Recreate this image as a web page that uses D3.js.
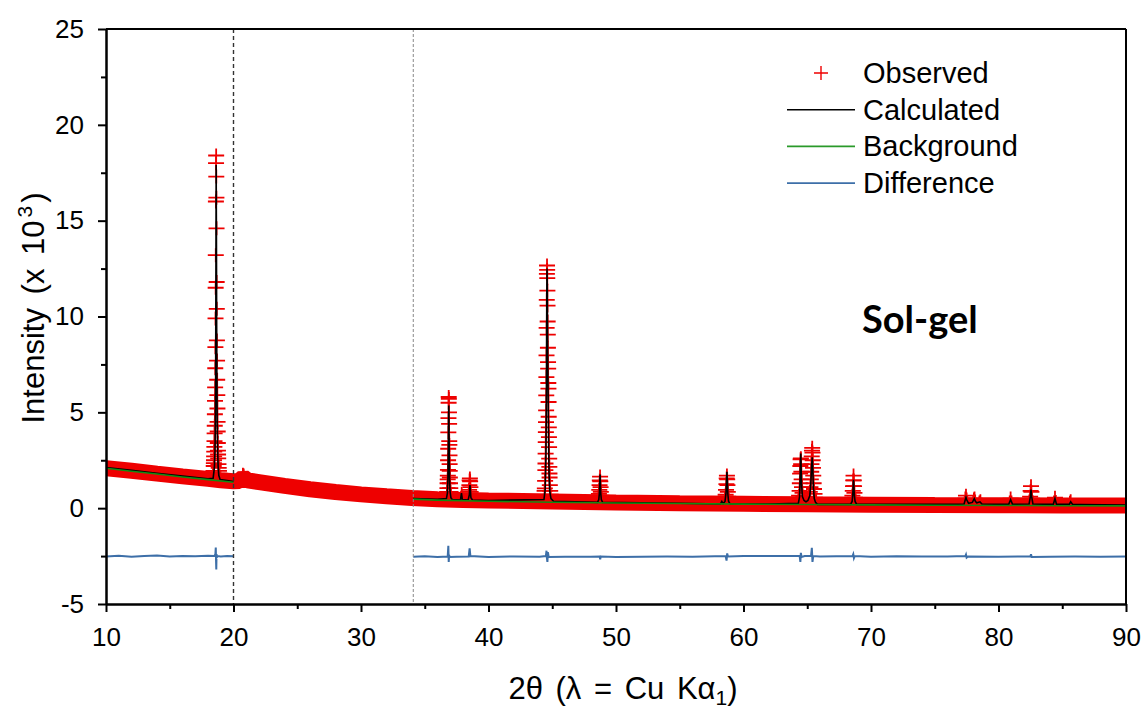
<!DOCTYPE html>
<html>
<head>
<meta charset="utf-8">
<script src="https://cdn.jsdelivr.net/npm/d3@7"></script>
<style>
  body { margin: 0; background: #fff; }
  svg { display: block; }
  .axis text { font-family: "Liberation Sans", Arial, sans-serif; font-size: 26px; fill: #000; }
  .axis path, .axis line { stroke: #000; stroke-width: 2; }
</style>
</head>
<body>
<div id="chart"></div>
<script>
// values (intensity in x 10^3 counts)
var xMajor = [10, 20, 30, 40, 50, 60, 70, 80, 90];
var xMinor = [15, 25, 35, 45, 55, 65, 75, 85];
var yMajor = [-5, 0, 5, 10, 15, 20, 25];
var yMinor = [-2.5, 2.5, 7.5, 12.5, 17.5, 22.5];
var excludedEdges = [20, 34.1];
var legendNames = ["Observed", "Calculated", "Background", "Difference"];

// observed counts along the baseline (the dense band of markers)
var obsBase = [[10,2.08],[12,1.95],[14,1.8],[16,1.66],[18,1.53],[19,1.46],[20,1.4],[20.45,1.42],
  [20.77,1.62],[21.1,1.45],[22,1.36],[24,1.16],[26,0.99],[28,0.84],
  [30,0.72],[32,0.62],[34,0.53],[36,0.47],[38,0.43],[40,0.4],[45,0.35],[50,0.3],[55,0.26],
  [60,0.23],[65,0.2],[70,0.18],[75,0.16],[80,0.15],[85,0.14],[90,0.14]];

// observed counts on the reflections
var obsPeaks = [
  [18.40,1.7],[18.43,1.95],[18.45,2.2],[18.46,2.35],[18.47,2.5],[18.48,2.7],[18.49,2.95],[18.50,3.2],
  [18.51,3.5],[18.52,3.9],[18.53,4.3],[18.54,4.9],[18.55,5.6],[18.56,6.3],[18.57,7.3],[18.58,8.4],
  [18.59,9.9],[18.60,11.5],[18.61,13.2],[18.62,16.0],[18.63,18.0],[18.64,18.4],[18.65,17.3],
  [18.66,16.2],[18.67,14.6],[18.68,11.8],[18.69,10.4],[18.70,8.75],[18.71,7.7],[18.72,6.7],
  [18.73,5.9],[18.74,5.2],[18.75,4.5],[18.76,4.0],[18.77,3.4],[18.78,3.0],[18.79,2.8],[18.80,2.6],
  [18.82,2.3],[18.84,2.1],[18.86,1.95],[18.90,1.8],
  [20.74,1.75],[20.80,1.7],
  [36.74,0.75],[36.76,0.85],[36.78,1.05],[36.79,1.3],[36.80,1.5],[36.81,1.7],[36.82,2.0],[36.83,2.5],
  [36.84,3.1],[36.85,3.95],[36.86,4.7],[36.87,5.5],[36.88,5.8],[36.89,5.7],[36.90,5.0],[36.91,4.4],
  [36.92,3.5],[36.93,3.3],[36.94,2.75],[36.95,2.3],[36.96,1.95],[36.97,1.6],[36.98,1.3],[37.00,1.05],
  [37.02,0.85],[37.05,0.7],
  [37.85,0.55],[37.90,0.75],[37.95,0.55],
  [38.45,0.7],[38.48,0.95],[38.50,1.2],[38.52,1.45],[38.54,1.55],[38.56,1.4],[38.58,1.1],[38.60,0.85],[38.63,0.65],
  [44.40,0.9],[44.42,1.03],[44.44,1.42],[44.46,1.98],[44.47,2.33],[44.48,2.85],[44.49,3.45],[44.50,3.97],
  [44.51,4.49],[44.52,5.10],[44.53,5.89],[44.54,6.84],[44.55,7.97],[44.56,9.41],[44.57,10.87],
  [44.58,12.22],[44.59,12.66],[44.60,12.43],[44.61,12.0],[44.62,11.35],[44.63,10.57],[44.64,9.74],
  [44.65,9.05],[44.66,8.37],[44.67,7.62],[44.68,7.28],[44.69,6.53],[44.70,6.24],[44.71,5.54],
  [44.72,4.77],[44.73,4.22],[44.74,3.71],[44.75,3.19],[44.76,2.59],[44.77,2.15],[44.78,1.81],
  [44.79,1.60],[44.81,1.20],[44.84,0.9],[44.88,0.7],
  [48.62,0.6],[48.66,0.75],[48.69,0.95],[48.71,1.2],[48.73,1.45],[48.75,1.65],[48.77,1.4],[48.79,1.1],
  [48.81,0.85],[48.84,0.65],[48.88,0.5],
  [58.55,0.5],[58.60,0.7],[58.63,0.95],[58.66,1.25],[58.68,1.55],[58.70,1.7],[58.72,1.5],[58.74,1.2],
  [58.77,0.85],[58.80,0.6],[58.85,0.45],
  [64.30,0.4],[64.36,0.65],[64.40,0.9],[64.42,1.3],[64.44,1.8],[64.46,2.2],[64.48,2.55],[64.50,2.6],
  [64.52,2.3],[64.54,1.9],[64.56,1.5],[64.59,1.1],[64.63,0.8],[64.70,0.6],[64.80,0.45],[64.90,0.42],
  [65.00,0.5],[65.10,0.6],[65.20,0.85],[65.25,1.1],[65.28,1.5],[65.31,1.9],[65.33,2.3],[65.35,2.7],
  [65.37,3.0],[65.39,3.15],[65.41,2.9],[65.43,2.5],[65.45,2.1],[65.47,1.7],[65.50,1.3],[65.53,1.0],
  [65.57,0.75],[65.62,0.55],[65.70,0.4],
  [68.50,0.45],[68.54,0.65],[68.57,0.9],[68.59,1.15],[68.61,1.45],[68.63,1.7],[68.65,1.45],[68.67,1.15],
  [68.70,0.8],[68.74,0.55],[68.80,0.4],
  [77.35,0.3],[77.40,0.5],[77.45,0.65],[77.50,0.45],[77.55,0.3],
  [78.02,0.3],[78.07,0.45],[78.12,0.5],[78.17,0.35],[78.50,0.3],[78.58,0.36],
  [80.88,0.3],[80.95,0.5],[81.02,0.3],
  [82.42,0.35],[82.48,0.6],[82.52,0.9],[82.55,1.15],[82.58,0.85],[82.63,0.5],[82.70,0.3],
  [84.35,0.3],[84.43,0.55],[84.50,0.32],[85.60,0.28],[85.66,0.36]
];

// calculated profile (null = excluded region 20 - 34.1)
var calcPts = [[10,2.12],[12,1.97],[14,1.82],[16,1.67],[18,1.53],[18.40,1.56],[18.50,2.1],[18.55,3.0],
  [18.58,4.6],[18.60,7.0],[18.62,12.0],[18.64,17.9],[18.66,14.5],[18.68,9.5],[18.70,6.5],[18.72,4.6],
  [18.75,3.1],[18.80,2.1],[18.85,1.7],[18.95,1.5],[19.5,1.44],[20,1.39],
  null,
  [34.1,0.5],[36,0.46],[36.70,0.5],[36.78,0.8],[36.82,1.6],[36.85,3.2],[36.87,4.8],[36.88,5.35],
  [36.89,5.0],[36.91,3.6],[36.93,2.4],[36.95,1.5],[36.98,0.9],[37.05,0.55],[37.15,0.45],[37.8,0.42],
  [37.88,0.78],[37.95,0.45],[38.4,0.42],[38.50,0.7],[38.53,1.05],[38.55,1.2],[38.57,1.0],[38.62,0.55],
  [38.75,0.42],[40,0.4],[44.35,0.45],[44.45,1.0],[44.50,2.6],[44.53,4.8],[44.55,7.5],[44.57,11.0],
  [44.59,12.5],[44.61,11.5],[44.63,9.0],[44.65,7.5],[44.67,6.3],[44.69,4.8],[44.72,3.0],[44.75,1.8],
  [44.80,0.9],[44.90,0.5],[45.1,0.36],[48.55,0.3],[48.65,0.45],[48.70,0.8],[48.73,1.4],[48.75,1.75],
  [48.77,1.4],[48.80,0.8],[48.85,0.45],[48.95,0.3],[55,0.26],[58.2,0.22],[58.3,0.35],[58.4,0.24],
  [58.55,0.35],[58.63,0.8],[58.67,1.5],[58.70,1.9],[58.73,1.5],[58.77,0.75],[58.83,0.35],[58.95,0.22],
  [62,0.22],[64.30,0.25],[64.40,0.6],[64.44,1.5],[64.47,2.5],[64.49,2.85],[64.51,2.4],[64.55,1.3],
  [64.62,0.6],[64.75,0.4],[64.90,0.33],[65.05,0.4],[65.20,0.65],[65.28,1.3],[65.34,2.2],[65.39,2.65],
  [65.43,2.1],[65.48,1.1],[65.55,0.5],[65.65,0.3],[65.80,0.2],[68.40,0.2],[68.52,0.35],[68.57,0.7],
  [68.61,1.25],[68.63,1.48],[68.65,1.25],[68.69,0.7],[68.75,0.35],[68.88,0.2],[76.3,0.2],[77.3,0.22],
  [77.4,0.45],[77.45,0.56],[77.5,0.45],[77.65,0.25],[77.95,0.3],[78.1,0.5],[78.2,0.35],[78.3,0.28],
  [78.55,0.33],[78.7,0.22],[80.8,0.2],[80.95,0.45],[81.1,0.2],[82.4,0.22],[82.5,0.6],[82.55,0.97],
  [82.6,0.6],[82.7,0.22],[84.3,0.2],[84.43,0.5],[84.55,0.2],[85.55,0.2],[85.66,0.33],[85.8,0.2],
  [86.4,0.19],[90,0.16]];

var bgPts = [[10,2.08],[12,1.93],[14,1.78],[16,1.63],[18,1.49],[20,1.35],
  null,
  [34.1,0.47],[36,0.42],[40,0.36],[45,0.31],[50,0.27],[55,0.24],[60,0.21],[65,0.19],[70,0.17],
  [75,0.15],[80,0.14],[85,0.13],[90,0.12]];

// difference curve, offset to -2.5
var diffPts = [[10,-2.52],[11,-2.48],[12,-2.53],[13,-2.5],[14,-2.47],[15,-2.52],[16,-2.49],[17,-2.51],
  [18,-2.48],[18.50,-2.5],[18.58,-2.4],[18.61,-2.05],[18.63,-2.7],[18.65,-3.2],[18.67,-2.4],
  [18.70,-2.55],[18.75,-2.5],[19,-2.52],[19.5,-2.49],[20,-2.51],
  null,
  [34.1,-2.53],[35,-2.51],[36,-2.55],[36.8,-2.52],[36.85,-1.96],[36.88,-2.81],[36.91,-2.45],
  [36.95,-2.55],[37.5,-2.53],[38.45,-2.52],[38.52,-2.1],[38.58,-2.5],[40,-2.55],[42,-2.52],[44,-2.54],
  [44.5,-2.5],[44.55,-2.22],[44.58,-2.6],[44.62,-2.8],[44.66,-2.3],[44.72,-2.55],[46,-2.53],[48,-2.54],
  [48.72,-2.52],[48.76,-2.67],[48.8,-2.52],[50,-2.55],[52,-2.53],[54,-2.52],[56,-2.53],[58.6,-2.5],
  [58.67,-2.74],[58.72,-2.36],[58.78,-2.52],[60,-2.5],[62,-2.5],[64.4,-2.48],[64.46,-2.8],[64.5,-2.33],
  [64.55,-2.55],[64.8,-2.5],[65.3,-2.48],[65.36,-2.07],[65.41,-2.8],[65.47,-2.5],[66,-2.52],[68.55,-2.5],
  [68.61,-2.4],[68.66,-2.6],[68.72,-2.5],[70,-2.53],[72,-2.51],[74,-2.52],[76,-2.52],[77.4,-2.5],
  [77.45,-2.42],[77.5,-2.58],[77.6,-2.52],[80,-2.53],[82.5,-2.52],[82.55,-2.4],[82.6,-2.55],[84,-2.53],
  [86,-2.52],[88,-2.53],[90,-2.52]];

var colors = {obs: "#ee0000", calc: "#000000", bg: "#138a13", diff: "#3d6fa8"};

// SVG drawing area
var margin = {top: 29, right: 18, bottom: 107, left: 106};
var width = 1144 - margin.left - margin.right;
var height = 711 - margin.top - margin.bottom;

var svg = d3.select("#chart").append("svg")
    .attr("width", 1144)
    .attr("height", 711);

var g = svg.append("g")
    .attr("transform", "translate(" + margin.left + "," + margin.top + ")");

g.append("clipPath")
    .attr("id", "plotClip")
    .append("rect")
    .attr("width", width)
    .attr("height", height);

//Scales
var xScale = d3.scaleLinear().domain([10, 90]).range([0, width]);
var yScale = d3.scaleLinear().domain([-5, 25]).range([height, 0]);

var line = d3.line()
    .defined(function(d) { return d !== null; })
    .x(function(d) { return xScale(d[0]); })
    .y(function(d) { return yScale(d[1]); });

var plot = g.append("g").attr("clip-path", "url(#plotClip)");

// observed: overlapping markers along the baseline read as a solid band
plot.append("path")
    .attr("d", line(obsBase))
    .attr("fill", "none")
    .attr("stroke", colors.obs)
    .attr("stroke-width", 16)
    .attr("stroke-linejoin", "bevel");

var plus = "M-8,0H8M0,-7V7";
plot.append("g").selectAll("path")
    .data(obsPeaks.concat(obsBase))
    .enter()
    .append("path")
    .attr("d", plus)
    .attr("transform", function(d) { return "translate(" + xScale(d[0]) + "," + yScale(d[1]) + ")"; })
    .attr("stroke", colors.obs)
    .attr("stroke-width", 1.8)
    .attr("fill", "none");

plot.append("path")
    .attr("d", line(calcPts))
    .attr("fill", "none")
    .attr("stroke", colors.calc)
    .attr("stroke-width", 1.6);

plot.append("path")
    .attr("d", line(bgPts))
    .attr("fill", "none")
    .attr("stroke", colors.bg)
    .attr("stroke-width", 1.6);

plot.append("path")
    .attr("d", line(diffPts))
    .attr("fill", "none")
    .attr("stroke", colors.diff)
    .attr("stroke-width", 2);

// excluded region boundaries
plot.selectAll(".excl")
    .data(excludedEdges)
    .enter()
    .append("line")
    .attr("class", "excl")
    .attr("x1", function(d) { return xScale(d); })
    .attr("x2", function(d) { return xScale(d); })
    .attr("y1", yScale(25))
    .attr("y2", yScale(-5))
    .attr("stroke", function(d, i) { return i === 0 ? "#333" : "#888"; })
    .attr("stroke-width", function(d, i) { return i === 0 ? 1.4 : 1; })
    .attr("stroke-dasharray", function(d, i) { return i === 0 ? "4,3" : "3,2"; });

//Axes
var plain = function(d) { return String(d); };
g.append("g")
    .attr("class", "axis")
    .attr("transform", "translate(0," + height + ")")
    .call(d3.axisBottom(xScale).tickValues(xMajor).tickSize(8).tickSizeOuter(0).tickPadding(16).tickFormat(plain));
g.append("g")
    .attr("class", "axis minor")
    .attr("transform", "translate(0," + height + ")")
    .call(d3.axisBottom(xScale).tickValues(xMinor).tickSize(5).tickSizeOuter(0).tickFormat(""));
g.append("g")
    .attr("class", "axis")
    .call(d3.axisLeft(yScale).tickValues(yMajor).tickSize(8).tickSizeOuter(0).tickPadding(14).tickFormat(plain));
g.append("g")
    .attr("class", "axis minor")
    .call(d3.axisLeft(yScale).tickValues(yMinor).tickSize(5).tickSizeOuter(0).tickFormat(""));

// frame: top and right edges
g.append("line")
    .attr("x1", xScale(10)).attr("x2", xScale(90))
    .attr("y1", yScale(25)).attr("y2", yScale(25))
    .attr("stroke", "#000").attr("stroke-width", 2);
g.append("line")
    .attr("x1", xScale(90)).attr("x2", xScale(90))
    .attr("y1", yScale(25)).attr("y2", yScale(-5))
    .attr("stroke", "#000").attr("stroke-width", 2);

// Axis titles
var yTitle = svg.append("text")
    .attr("transform", "translate(44,308)rotate(-90)")
    .attr("text-anchor", "middle")
    .style("font-family", "'Liberation Sans', Arial, sans-serif")
    .style("font-size", "31px")
    .style("word-spacing", "5px");
yTitle.append("tspan").text("Intensity (x 10");
yTitle.append("tspan").attr("dy", -12).attr("dx", 3).style("font-size", "21px").text("3");
yTitle.append("tspan").attr("dy", 12).attr("dx", 3).text(")");

var xTitle = svg.append("text")
    .attr("x", 623)
    .attr("y", 699)
    .attr("text-anchor", "middle")
    .style("font-family", "'Liberation Sans', Arial, sans-serif")
    .style("font-size", "31px")
    .style("word-spacing", "4px");
xTitle.append("tspan").text("2\u03b8 (\u03bb = Cu K\u03b1");
xTitle.append("tspan").attr("dy", 6).style("font-size", "21px").text("1");
xTitle.append("tspan").attr("dy", -6).text(")");

// sample label
svg.append("text")
    .attr("x", 862)
    .attr("y", 333)
    .style("font-family", "Lato, 'Open Sans', sans-serif")
    .style("font-weight", "bold")
    .style("font-size", "38px")
    .text("Sol-gel");

// Legend
var legend = svg.append("g").attr("transform", "translate(787,73)");
var rows = legend.selectAll("g")
    .data(legendNames)
    .enter()
    .append("g")
    .attr("transform", function(d, i) { return "translate(0," + (i * 36.7) + ")"; });

rows.filter(function(d, i) { return i === 0; })
    .append("path")
    .attr("d", "M-7,0H7M0,-7V7")
    .attr("transform", "translate(34,0)")
    .attr("stroke", colors.obs)
    .attr("stroke-width", 1.4)
    .attr("fill", "none");

rows.filter(function(d, i) { return i > 0; })
    .append("line")
    .attr("x1", 0).attr("x2", 68)
    .attr("stroke", function(d, i) { return [colors.calc, "#2a9a2a", colors.diff][i]; })
    .attr("stroke-width", 1.6);

rows.append("text")
    .attr("x", 76)
    .attr("y", 10)
    .style("font-family", "'Liberation Sans', Arial, sans-serif")
    .style("font-size", "29px")
    .text(function(d) { return d; });
</script>
</body>
</html>
